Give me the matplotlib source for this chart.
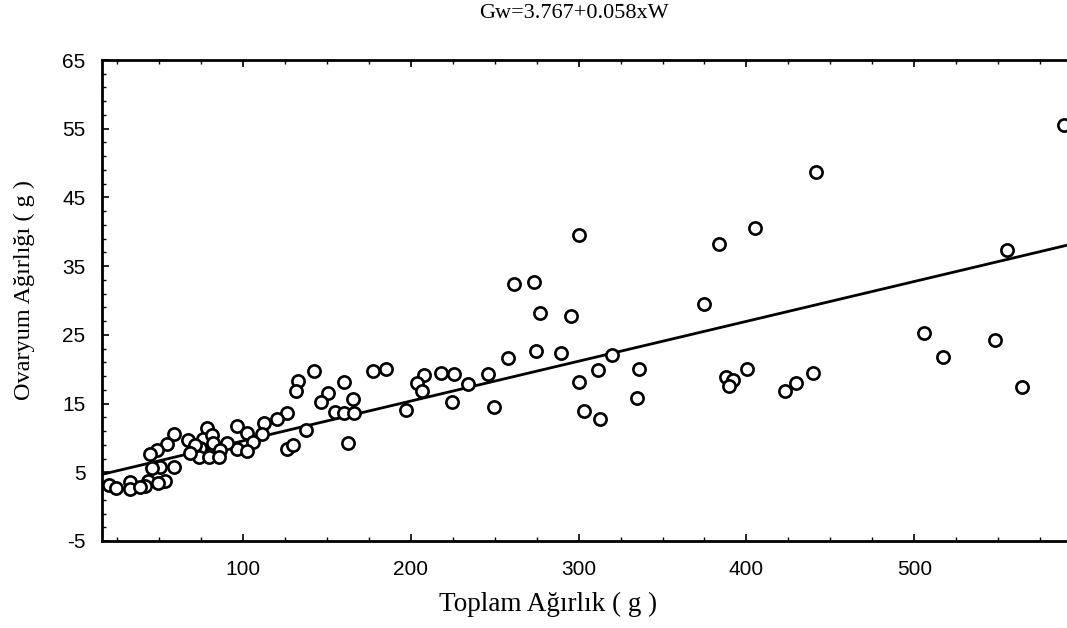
import matplotlib
matplotlib.use("Agg")
import matplotlib.pyplot as plt
import numpy as np
from matplotlib.ticker import FixedLocator

plt.rcParams["axes.unicode_minus"] = False

# data
total_weight = [
    589, 441.5, 405.3, 383.5, 374.6, 555.3, 505.6, 548, 517.3, 564, 400.4, 439.4, 429.6,
    422.8, 388.1, 392, 389.5,
    300, 261.3, 273.6, 277.2, 295.4, 257.9, 274.4, 289.5, 319.8, 311.3, 336, 300.5, 303.3,
    312.6, 334.6, 249.8, 245.8, 233.9, 224.8, 218.1, 226, 207.8, 203.9, 206.6, 196.9, 177.5,
    185.4, 142.5, 132.9, 131.4, 160.3, 150.7, 146.4, 165.6, 154.7, 160.3, 166, 137.3, 162.7,
    126.4, 120.4, 112.7, 96.7, 102.2, 111.1, 106.2, 96.3, 102.2, 126.4, 130, 78.5, 76.4, 81.4,
    82.4, 90.3, 74.5, 86.4, 73.5, 80, 86, 67.5, 71.5, 68.5, 58.9, 54.7, 48.7, 44.8, 50.7, 45.8,
    59, 53.7, 43.7, 49.3, 41.4, 32.9, 32.9, 38.4, 20, 24.4,
]
ovary_weight = [
    55.6, 48.7, 40.6, 38.2, 29.5, 37.4, 25.2, 24.3, 21.8, 17.4, 20.0, 19.5, 18.0,
    16.8, 18.9, 18.5, 17.6,
    39.6, 32.4, 32.7, 28.2, 27.7, 21.6, 22.6, 22.3, 22.0, 19.9, 20.0, 18.2, 13.9,
    12.7, 15.8, 14.5, 19.3, 17.9, 15.2, 19.5, 19.3, 19.1, 18.0, 16.8, 14.1, 19.8,
    20.0, 19.7, 18.3, 16.9, 18.2, 16.6, 15.3, 15.6, 13.8, 13.6, 13.6, 11.1, 9.3,
    13.6, 12.8, 12.2, 11.8, 10.7, 10.5, 9.4, 8.4, 8.1, 8.4, 8.9, 11.4, 9.9, 10.4,
    9.2, 9.3, 8.5, 8.2, 7.2, 7.2, 7.2, 9.7, 9.0, 7.8, 10.5, 9.1, 8.3, 7.6, 5.7, 5.6,
    5.7, 3.7, 3.8, 3.5, 3.0, 3.6, 2.6, 2.8, 3.1, 2.7,
]
intercept = 3.767
slope = 0.058
x_ticks = [100, 200, 300, 400, 500]
y_ticks = [-5, 5, 15, 25, 35, 45, 55, 65]
title = "Gw=3.767+0.058xW"
xlabel = "Toplam Ağırlık ( g )"
ylabel = "Ovaryum Ağırlığı ( g )"

xlim = (16, 591)
ylim = (-5, 65)

fig = plt.figure(figsize=(10.67, 6.28), dpi=100)
ax = fig.add_axes([102 / 1067, 1 - 541 / 628, 965 / 1067, (541 - 60) / 628])

xs = np.array(xlim)
ax.plot(xs, intercept + slope * xs, color="black", lw=2.0, zorder=2)
ax.plot(total_weight, ovary_weight, linestyle="none", marker="o", markersize=8.8,
        markerfacecolor="white", markeredgecolor="black", markeredgewidth=1.9, zorder=3)

ax.set_xlim(*xlim)
ax.set_ylim(*ylim)
ax.xaxis.set_major_locator(FixedLocator(x_ticks))
ax.xaxis.set_minor_locator(FixedLocator(np.arange(25, 600, 25)))
ax.yaxis.set_major_locator(FixedLocator(y_ticks))
ax.yaxis.set_minor_locator(FixedLocator(np.arange(-5, 66, 2)))

sans = ["Liberation Sans", "DejaVu Sans"]
serif = ["Liberation Serif", "DejaVu Serif"]
ax.tick_params(which="both", direction="in", top=True, right=False, color="black")
ax.tick_params(which="major", length=5, width=1.2)
ax.tick_params(which="minor", length=3, width=1.0)
ax.tick_params(axis="x", pad=14)
ax.tick_params(axis="y", pad=12)
for lab in ax.get_xticklabels() + ax.get_yticklabels():
    lab.set_family(sans)
    lab.set_fontsize(15)

for s in ["left", "bottom", "top"]:
    ax.spines[s].set_linewidth(2.0)
ax.spines["right"].set_visible(False)

fig.text(574 / 1067, 1 - 13 / 628, title, ha="center", va="center",
         family=serif, fontsize=16)
fig.text(548 / 1067, 1 - 604 / 628, xlabel, ha="center", va="center",
         family=serif, fontsize=19.5)
fig.text(24 / 1067, 1 - 290 / 628, ylabel, ha="center", va="center", rotation=90,
         family=serif, fontsize=17.5)

fig.savefig("out.png", dpi=100)
